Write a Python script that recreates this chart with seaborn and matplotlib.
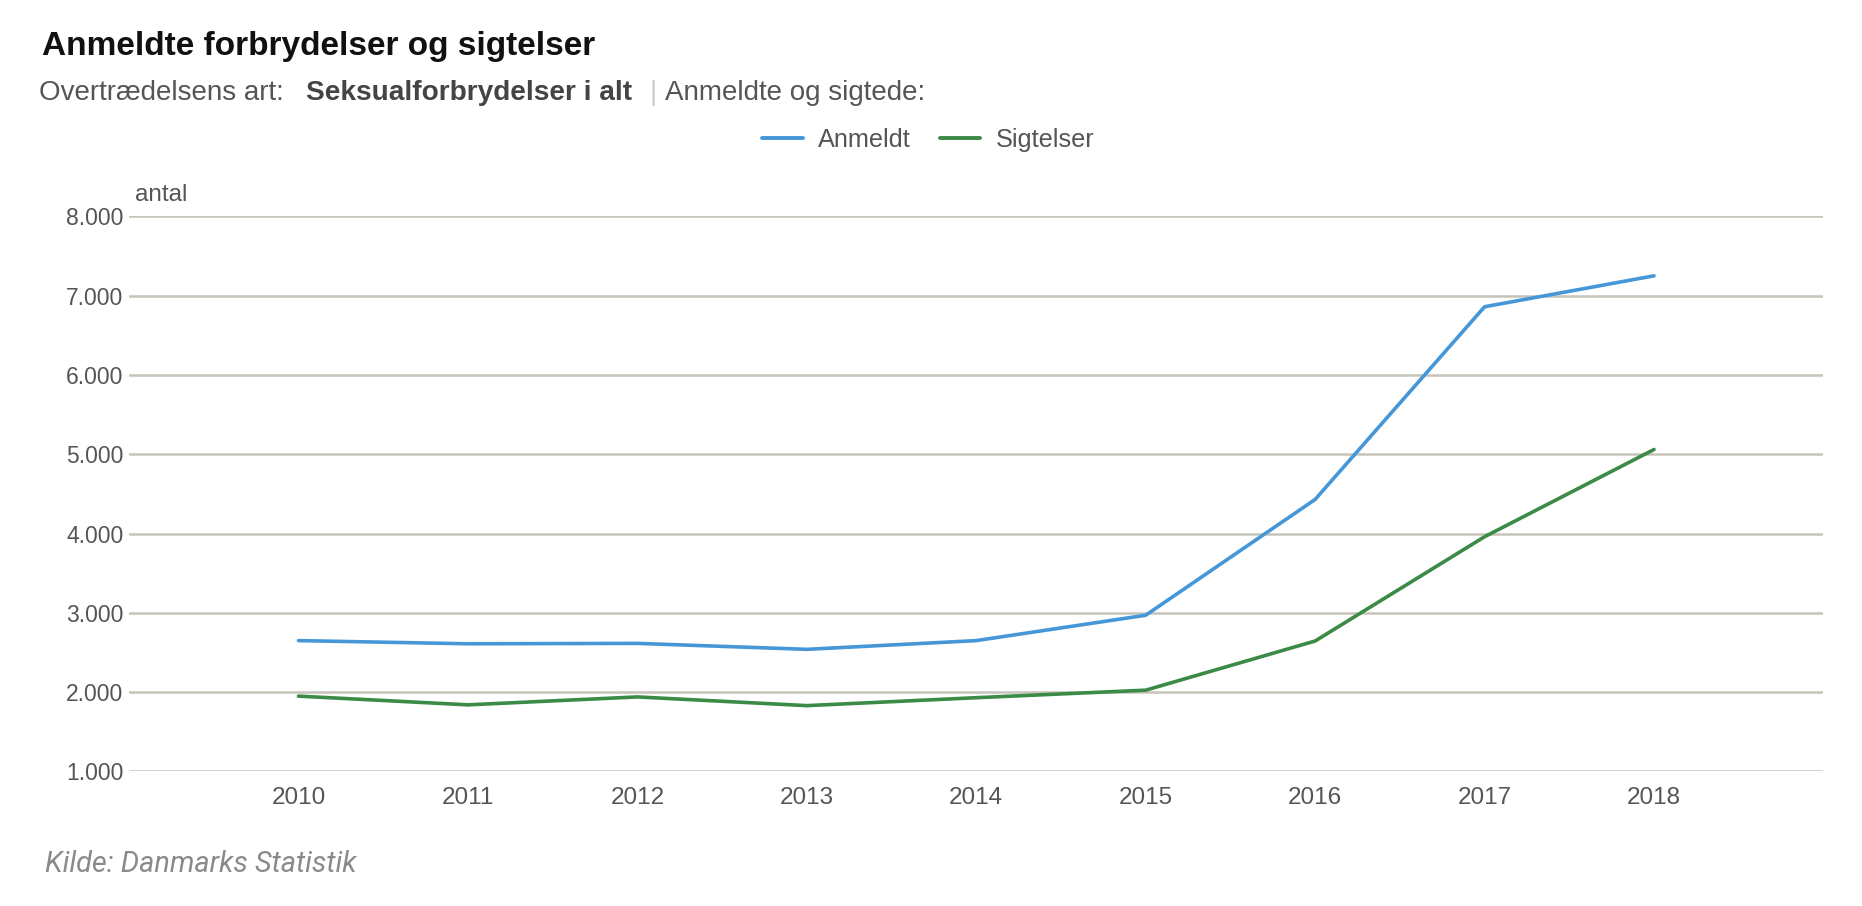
import matplotlib
matplotlib.use("Agg")
import matplotlib.pyplot as plt
import seaborn as sns
import pandas as pd
from matplotlib.lines import Line2D

# ---- data ----
years = [2010, 2011, 2012, 2013, 2014, 2015, 2016, 2017, 2018]
anmeldt = [2650, 2610, 2615, 2540, 2650, 2970, 4430, 6860, 7250]
sigtelser = [1950, 1840, 1940, 1830, 1930, 2025, 2645, 3960, 5060]
series_names = ["Anmeldt", "Sigtelser"]
y_ticks = [1000, 2000, 3000, 4000, 5000, 6000, 7000, 8000]
y_tick_labels = ["1.000", "2.000", "3.000", "4.000", "5.000", "6.000", "7.000", "8.000"]

df = pd.DataFrame({
    "year": years * 2,
    "value": anmeldt + sigtelser,
    "series": [series_names[0]] * len(years) + [series_names[1]] * len(years),
})

sns.set_theme(style="white")
plt.rcParams["font.family"] = ["Liberation Sans", "DejaVu Sans"]

colors = {"Anmeldt": "#4697d8", "Sigtelser": "#3b8a46"}
text_gray = "#555555"

fig = plt.figure(figsize=(18.62, 9.06), dpi=100)
ax = fig.add_axes([0.0693, 0.1485, 0.9100, 0.6127])

sns.lineplot(data=df, x="year", y="value", hue="series", palette=colors,
             linewidth=2.6, ax=ax, legend=False)

ax.set_xlim(2009, 2019)
ax.set_ylim(1000, 8000)
ax.set_yticks(y_ticks)
ax.set_yticklabels(y_tick_labels)
ax.set_xticks(years)
ax.set_xticklabels([str(y) for y in years])
ax.set_xlabel("")
ax.set_ylabel("")
ax.grid(axis="y", color="#c6c4ba", linewidth=1.8)
ax.grid(axis="x", visible=False)
ax.set_axisbelow(True)
for s in ax.spines.values():
    s.set_visible(False)
ax.tick_params(axis="y", length=0, labelsize=16.5, colors=text_gray, pad=4)
ax.tick_params(axis="x", length=0, labelsize=17.5, colors=text_gray, pad=11)

# "antal" unit label
fig.text(135 / 1862, 1 - 195 / 906, "antal", fontsize=17.5, color=text_gray,
         ha="left", va="center")

# Title
fig.text(42 / 1862, 1 - 46 / 906, "Anmeldte forbrydelser og sigtelser",
         fontsize=24, fontweight="bold", color="#111111", ha="left", va="center")

# Subtitle pieces
sy = 1 - 93 / 906
fig.text(39 / 1862, sy, "Overtrædelsens art:", fontsize=20, color=text_gray,
         ha="left", va="center")
fig.text(306 / 1862, sy, "Seksualforbrydelser i alt", fontsize=20.2,
         fontweight="bold", color="#444444", ha="left", va="center")
fig.text(650 / 1862, sy, "|", fontsize=20, color="#cccccc", ha="left", va="center")
fig.text(665 / 1862, sy, "Anmeldte og sigtede:", fontsize=20, color=text_gray,
         ha="left", va="center")

# Legend
handles = [Line2D([0], [0], color=colors[n], linewidth=2.8) for n in series_names]
leg = fig.legend(handles, series_names, loc="center", bbox_to_anchor=(0.4985, 1 - 140 / 906),
                 ncol=2, frameon=False, fontsize=18.2, handlelength=1.6,
                 columnspacing=1.15, handletextpad=0.6)
for t in leg.get_texts():
    t.set_color(text_gray)

# Source
fig.text(45 / 1862, 1 - 864 / 906, "Kilde: Danmarks Statistik", fontsize=20.8,
         style="italic", color="#8a8a8a", ha="left", va="center",
         family=["Roboto", "DejaVu Sans"])

fig.savefig("out.png", dpi=100)
